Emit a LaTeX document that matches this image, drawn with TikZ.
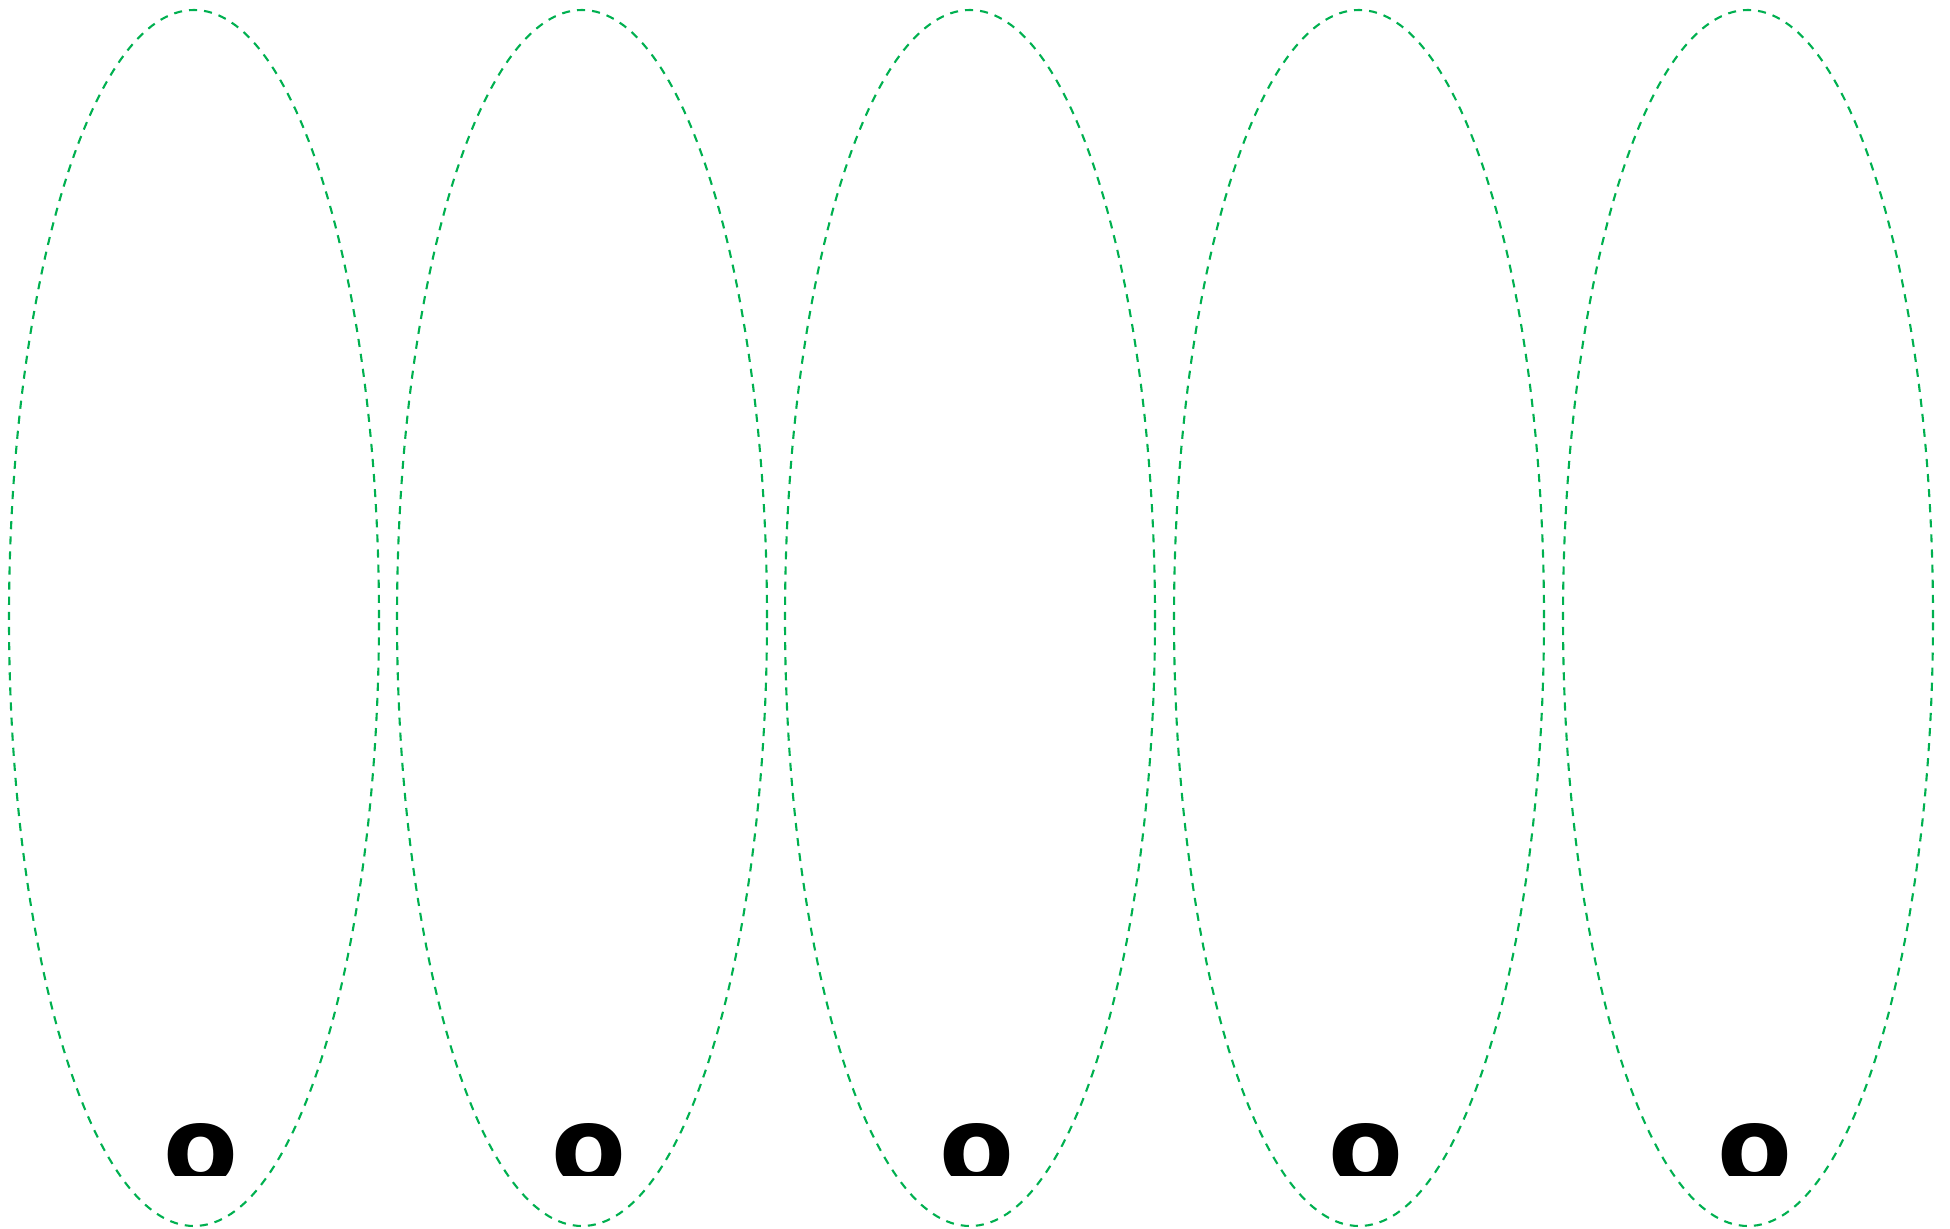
\documentclass[tikz,border=0pt]{standalone}
\usepackage{fontspec}
\usetikzlibrary{shapes.geometric}
\newfontfamily\boldsans{DejaVu Sans}
\definecolor{ringgreen}{RGB}{0,176,80}

\begin{document}
\begin{tikzpicture}[x=0.1mm, y=-0.1mm,
  ring/.style={ellipse, draw=ringgreen, dash pattern=on 2.3pt off 2pt,
               line width=0.6pt, minimum width=3.7cm, minimum height=12.16cm,
               inner sep=0pt},
  letter/.style={font=\boldsans\bfseries\fontsize{31}{31}\selectfont,
                 inner sep=0pt, anchor=base}
]
\useasboundingbox (0,0) rectangle (1950,1229);
\foreach \i/\cx in {1/194,2/582,3/970,4/1359,5/1748} {
  \node[ring] (g\i) at (\cx,618) {};
}
% letters cut off at the bottom
\begin{scope}
\clip (0,0) rectangle (1950,1175);
\foreach \i in {1,...,5} {
  \path (g\i.center) ++(7,566) node[letter] (o\i) {o};
}
\end{scope}
\end{tikzpicture}
\end{document}
